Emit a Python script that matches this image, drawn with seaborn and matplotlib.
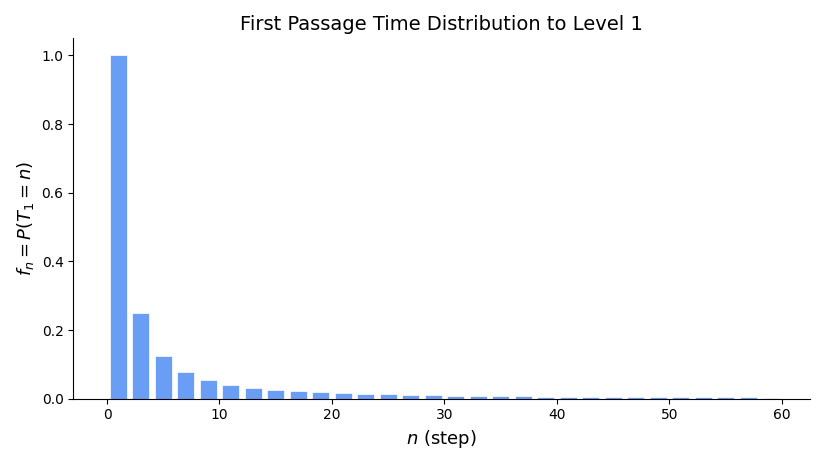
import matplotlib
matplotlib.use("Agg")
import matplotlib.pyplot as plt
import seaborn as sns
import pandas as pd

n_steps = [1, 3, 5, 7, 9, 11, 13, 15, 17, 19, 21, 23, 25, 27, 29, 31, 33, 35, 37, 39,
           41, 43, 45, 47, 49, 51, 53, 55, 57, 59]
f_vals = [1.0, 0.25, 0.125, 0.0781, 0.0547, 0.0410, 0.0322, 0.0262, 0.0218, 0.0185,
          0.0160, 0.0140, 0.0124, 0.0111, 0.0100, 0.0090, 0.0082, 0.0075, 0.0069, 0.0064,
          0.0060, 0.0055, 0.0052, 0.0049, 0.0046, 0.0043, 0.0041, 0.0038, 0.0036, 0.0035]

df = pd.DataFrame({"n": n_steps, "f": f_vals})
fig, ax = plt.subplots(figsize=(8.25, 4.65), dpi=100)
sns.barplot(data=df, x="n", y="f", native_scale=True, width=0.75,
            color="#6a9ef5", saturation=1, edgecolor="white", linewidth=0.5, ax=ax)
ax.set_xlim(-3, 62.5)
ax.set_ylim(0, 1.05)
ax.set_xticks([0, 10, 20, 30, 40, 50, 60])
ax.set_xlabel(r"$n$ (step)", fontsize=13)
ax.set_ylabel(r"$f_n = P(T_1 = n)$", fontsize=13)
ax.set_title("First Passage Time Distribution to Level 1", fontsize=14)
sns.despine(ax=ax)
fig.tight_layout()
fig.savefig("out.png")
